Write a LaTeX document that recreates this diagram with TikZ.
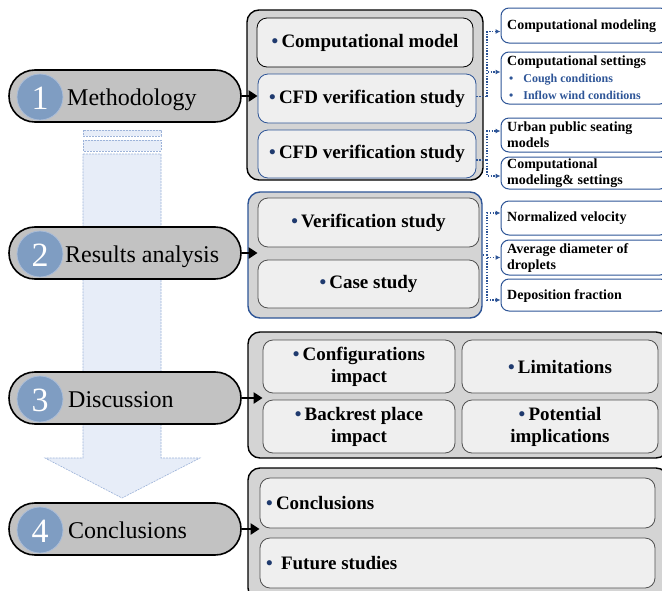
\documentclass[tikz,border=0pt]{standalone}
\usepackage{fontspec}
\setmainfont{Liberation Serif}
\usetikzlibrary{arrows.meta}
\definecolor{pillgray}{HTML}{C2C2C2}
\definecolor{panelgray}{HTML}{D4D4D4}
\definecolor{boxgray}{HTML}{EFEFEF}
\definecolor{circblue}{HTML}{7F9DC2}
\definecolor{circedge}{HTML}{A9BCD8}
\definecolor{dblue}{HTML}{2E5597}
\definecolor{bulletblue}{HTML}{1F3A6E}
\definecolor{arrowfill}{HTML}{E7EDF8}
\definecolor{arrowline}{HTML}{9DB3D9}
\definecolor{innerline}{HTML}{505050}
\newcommand{\bul}{{\color{bulletblue}\textbullet}\,}
\begin{document}
\begin{tikzpicture}[x=1pt,y=-1pt,
  pill/.style={draw=black,line width=1.6pt,fill=pillgray,rounded corners=25.9pt,minimum width=232pt,minimum height=52pt,inner sep=0pt},
  numcirc/.style={circle,fill=circblue,draw=circedge,line width=0.8pt,minimum size=46pt,inner sep=0pt},
  numtxt/.style={text=white,font=\fontsize{34}{34}\selectfont,inner sep=0pt,anchor=base},
  pilltxt/.style={font=\fontsize{24}{26}\selectfont,inner sep=0pt,anchor=base west},
  panel/.style={draw=black,line width=1.4pt,fill=panelgray,rounded corners=12pt,inner sep=0pt},
  bluepanel/.style={panel,draw=dblue},
  inbox/.style={draw=innerline,line width=0.8pt,fill=boxgray,rounded corners=10pt,inner sep=0pt,align=center,font=\bfseries\fontsize{19}{22}\selectfont},
  blueinbox/.style={inbox,draw=dblue},
  darkinbox/.style={inbox,draw=black},
  smallbox/.style={draw=dblue,line width=1pt,fill=white,rounded corners=8pt,minimum width=167pt,inner sep=0pt},
  smalltxt/.style={font=\bfseries\fontsize{14}{16}\selectfont,inner sep=0pt,anchor=west,align=left},
  subtxt/.style={font=\bfseries\fontsize{12}{14}\selectfont,text=dblue,inner sep=0pt,anchor=west},
  lefttxt/.style={font=\bfseries\fontsize{19}{22}\selectfont,inner sep=0pt,anchor=west},
  mainarrow/.style={draw=black,line width=2.6pt,-{Triangle[length=9pt,width=11pt]}},
  dotconn/.style={draw=dblue,line width=1.7pt,dash pattern=on 1.3pt off 1.5pt,-{Latex[length=5pt,width=5pt]}},
  dotline/.style={draw=dblue,line width=1.7pt,dash pattern=on 1.3pt off 1.5pt}
]
\clip (0,0) rectangle (662,590);
\fill[white] (0,0) rectangle (662,590);

% big down arrow
\draw[arrowline,fill=arrowfill,line width=0.6pt,dash pattern=on 2pt off 1pt]
  (83,154) -- (161,154) -- (161,458) -- (200,458) -- (122,498) -- (45,458) -- (83,458) -- cycle;
\draw[arrowline,fill=arrowfill,line width=0.6pt,dash pattern=on 2pt off 1pt] (83,130) rectangle (161,136);
\draw[arrowline,fill=arrowfill,line width=0.6pt,dash pattern=on 2pt off 1pt] (83,140) rectangle (161,151);

% pills
\node[pill] (pill1) at (125,96) {};
\node[numcirc] (c1) at (40,97) {};
\node[numtxt] (n1) at (40,109) {1};
\node[pilltxt] (t1) at (67,105) {Methodology};

\node[pill] (pill2) at (125,253) {};
\node[numcirc] (c2) at (40,254) {};
\node[numtxt] (n2) at (40,266) {2};
\node[pilltxt] (t2) at (65,262) {Results analysis};

\node[pill] (pill3) at (125,398) {};
\node[numcirc] (c3) at (40,399) {};
\node[numtxt] (n3) at (40,411) {3};
\node[pilltxt] (t3) at (68,407) {Discussion};

\node[pill] (pill4) at (125,529) {};
\node[numcirc] (c4) at (40,530) {};
\node[numtxt] (n4) at (40,542) {4};
\node[pilltxt] (t4) at (68,538) {Conclusions};

% panel 1
\node[panel,minimum width=236pt,minimum height=170pt] (p1) at (365,95) {};
\node[darkinbox,minimum width=216pt,minimum height=49pt] (cm) at (365,42.5) {\bul Computational model};
\node[blueinbox,minimum width=218pt,minimum height=49pt] (cfd1) at (367,98.5) {\bul CFD verification study};
\node[blueinbox,minimum width=218pt,minimum height=48pt] (cfd2) at (367,154) {\bul CFD verification study};

% panel 2
\node[bluepanel,minimum width=234pt,minimum height=126pt] (p2) at (365,255) {};
\node[inbox,minimum width=221pt,minimum height=49pt] (vs) at (368.5,222.5) {\bul Verification study};
\node[inbox,minimum width=221pt,minimum height=48pt] (cs) at (368.5,284) {\bul Case study};

% panel 3
\node[panel,minimum width=420pt,minimum height=126pt] (p3) at (458,395) {};
\node[inbox,minimum width=192pt,minimum height=53pt] (cf) at (359,366.5) {\bul Configurations\\impact};
\node[inbox,minimum width=196pt,minimum height=53pt] (lim) at (560,366.5) {\bul Limitations};
\node[inbox,minimum width=192pt,minimum height=53pt] (bp) at (359,426.5) {\bul Backrest place\\impact};
\node[inbox,minimum width=196pt,minimum height=53pt] (pim) at (560,426.5) {\bul Potential\\implications};

% panel 4
\node[panel,minimum width=420pt,minimum height=132pt] (p4) at (458,534) {};
\node[inbox,minimum width=395pt,minimum height=50pt] (co) at (457.5,503) {};
\node[lefttxt] (cot) at (266,503) {\bul Conclusions};
\node[inbox,minimum width=395pt,minimum height=50pt] (fs) at (457.5,563) {};
\node[lefttxt] (fst) at (266,563) {\bul\hspace{5pt}Future studies};

% small boxes
\node[smallbox,minimum height=35pt] (sb1) at (584.5,25.5) {};
\node[smalltxt] (sb1t) at (507,26) {Computational modeling};
\node[smallbox,minimum height=52pt] (sb2) at (584.5,78) {};
\node[smalltxt] (sb2t) at (507,62) {Computational settings};
\node[subtxt] (sb2a) at (509,80) {\textbullet\hspace{10pt}Cough conditions};
\node[subtxt] (sb2b) at (509,95) {\textbullet\hspace{10pt}Inflow wind conditions};
\node[smallbox,minimum height=34pt] (sb3) at (584.5,135) {};
\node[smalltxt] (sb3t) at (507,135) {Urban public seating\\models};
\node[smallbox,minimum height=32pt] (sb4) at (584.5,173) {};
\node[smalltxt] (sb4t) at (507,173) {Computational\\modeling\& settings};
\node[smallbox,minimum height=34pt] (sb5) at (584.5,218) {};
\node[smalltxt] (sb5t) at (507,218) {Normalized velocity};
\node[smallbox,minimum height=35pt] (sb6) at (584.5,257.5) {};
\node[smalltxt] (sb6t) at (507,258) {Average diameter of\\droplets};
\node[smallbox,minimum height=32pt] (sb7) at (584.5,295) {};
\node[smalltxt] (sb7t) at (507,296) {Deposition fraction};

% main arrows
\draw[mainarrow] (pill1.east) -- (cfd1.west |- pill1.east);
\draw[mainarrow] (pill2.east) -- (vs.west |- pill2.east);
\draw[mainarrow] (pill3.east) -- (cf.west |- pill3.east);
\draw[mainarrow] (pill4.east) -- (co.west |- pill4.east);

% dotted connectors
\coordinate (jx) at (487,0);
\draw[dotline] ([yshift=2pt]cfd1.east) -- ([yshift=2pt]cfd1.east -| jx);
\draw[dotconn] ([yshift=2pt]cfd1.east -| jx) |- ([yshift=-6pt]sb1.west);
\draw[dotconn] ([yshift=2pt]cfd1.east -| jx) |- ([yshift=6pt]sb2.west);
\draw[dotline] ([yshift=-6pt]cfd2.east) -- ([yshift=-6pt]cfd2.east -| jx);
\draw[dotconn] ([yshift=-6pt]cfd2.east -| jx) |- ([yshift=4pt]sb3.west);
\draw[dotconn] ([yshift=-6pt]cfd2.east -| jx) |- ([yshift=-3pt]sb4.west);
\draw[dotline] (p2.east) -- (p2.east -| jx);
\draw[dotconn] (p2.east -| jx) |- ([yshift=5pt]sb5.west);
\draw[dotconn] (p2.east -| jx) |- (sb6.west);
\draw[dotconn] (p2.east -| jx) |- ([yshift=-5pt]sb7.west);
\end{tikzpicture}
\end{document}
